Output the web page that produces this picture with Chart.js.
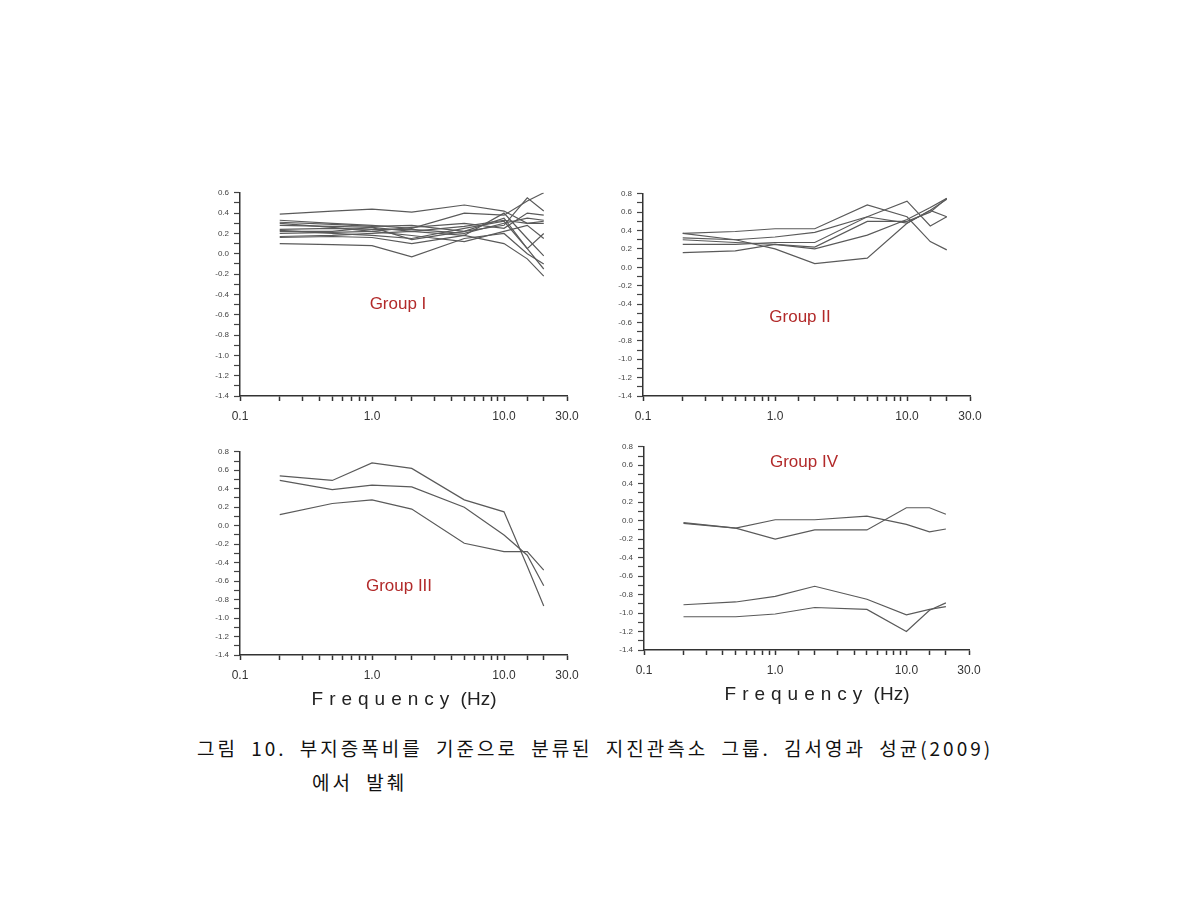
<!DOCTYPE html>
<html>
<head>
<meta charset="utf-8">
<script src="https://cdn.jsdelivr.net/npm/chart.js@4.4.1/dist/chart.umd.min.js"></script>
<style>
  body { margin: 0; background: #fff; width: 1190px; height: 905px; position: relative; overflow: hidden; }
  .panel { position: absolute; }
  .glabel { position: absolute; color: #b22a2a; font: 17px "Liberation Sans", Arial, sans-serif; transform: translateX(-50%); white-space: nowrap; }
  .xtitle { position: absolute; color: #222; font: 19px "Liberation Sans", Arial, sans-serif; transform: translateX(-50%); white-space: nowrap; }
  .xtitle span { letter-spacing: 6px; }
  .caption { position: absolute; color: #111; font: 19px "Noto Sans CJK KR", sans-serif; letter-spacing: 3px; word-spacing: 6px; white-space: nowrap; }
</style>
</head>
<body>
<canvas id="g1" class="panel"></canvas>
<canvas id="g2" class="panel"></canvas>
<canvas id="g3" class="panel"></canvas>
<canvas id="g4" class="panel"></canvas>

<div class="glabel" style="left:398px; top:294px;">Group I</div>
<div class="glabel" style="left:800px; top:307px;">Group II</div>
<div class="glabel" style="left:399px; top:576px;">Group III</div>
<div class="glabel" style="left:804px; top:452px;">Group IV</div>
<div class="xtitle" style="left:404px; top:688px;"><span>Frequency</span> (Hz)</div>
<div class="xtitle" style="left:817px; top:683px;"><span>Frequency</span> (Hz)</div>
<div class="caption" style="left:197px; top:734px;">그림 10. 부지증폭비를 기준으로 분류된 지진관측소 그룹. 김서영과 성균(2009)</div>
<div class="caption" style="left:312px; top:768px;">에서 발췌</div>

<script>
// frequencies (Hz) where each station's ratio was sampled
var freqs = [0.2, 0.5, 1, 2, 5, 10, 15, 20];

// Group I - site amplification ratio (log10) per station
var group1 = [
  [0.39, 0.42, 0.44, 0.41, 0.48, 0.42, 0.30, 0.32],
  [0.33, 0.30, 0.28, 0.25, 0.40, 0.38, 0.52, 0.60],
  [0.31, 0.29, 0.27, 0.28, 0.22, 0.28, 0.55, 0.42],
  [0.28, 0.27, 0.26, 0.22, 0.27, 0.33, 0.30, 0.30],
  [0.24, 0.25, 0.24, 0.24, 0.20, 0.30, 0.35, 0.33],
  [0.22, 0.22, 0.26, 0.14, 0.22, 0.35, 0.05, 0.20],
  [0.20, 0.21, 0.22, 0.26, 0.30, 0.25, 0.40, 0.38],
  [0.17, 0.18, 0.20, 0.22, 0.18, 0.40, 0.15, -0.02],
  [0.16, 0.17, 0.16, 0.10, 0.18, 0.10, -0.05, -0.22],
  [0.10, 0.09, 0.08, -0.03, 0.15, 0.20, 0.00, -0.10],
  [0.23, 0.20, 0.18, 0.15, 0.25, 0.32, 0.05, -0.15],
  [0.30, 0.26, 0.22, 0.18, 0.12, 0.22, 0.28, 0.15]
];

// Group II
var group2 = [
  [0.37, 0.39, 0.42, 0.42, 0.68, 0.55, 0.28, 0.19],
  [0.32, 0.30, 0.33, 0.38, 0.55, 0.72, 0.45, 0.55],
  [0.30, 0.27, 0.25, 0.22, 0.50, 0.50, 0.60, 0.75],
  [0.25, 0.25, 0.27, 0.27, 0.55, 0.48, 0.62, 0.55],
  [0.16, 0.18, 0.25, 0.20, 0.35, 0.52, 0.65, 0.75],
  [0.37, 0.30, 0.20, 0.04, 0.10, 0.48, 0.62, 0.74]
];

// Group III
var group3 = [
  [0.54, 0.49, 0.68, 0.62, 0.28, 0.15, -0.44, -0.87],
  [0.49, 0.39, 0.44, 0.42, 0.20, -0.10, -0.32, -0.65],
  [0.12, 0.24, 0.28, 0.18, -0.19, -0.28, -0.28, -0.48]
];

// Group IV
var group4 = [
  [-0.02, -0.08, 0.01, 0.01, 0.05, -0.04, -0.12, -0.09],
  [-0.03, -0.08, -0.20, -0.10, -0.10, 0.14, 0.14, 0.07],
  [-0.91, -0.88, -0.82, -0.71, -0.85, -1.02, -0.96, -0.93],
  [-1.04, -1.04, -1.01, -0.94, -0.96, -1.20, -0.97, -0.89]
];

var xLabels = {0.1: '0.1', 1: '1.0', 10: '10.0', 30: '30.0'};
var yMin = -1.4;
var yMaxTop = [0.6, 0.8, 0.8, 0.8];

function makePanel(id, rows, yMax, plot) {
  // plot = [left, top, right, bottom] of the plot area in page pixels
  var padL = 50, padT = 8, padR = 22, padB = 40;
  var cv = document.getElementById(id);
  var w = plot[2] - plot[0] + padL + padR;
  var h = plot[3] - plot[1] + padT + padB;
  cv.style.left = (plot[0] - padL) + 'px';
  cv.style.top = (plot[1] - padT) + 'px';
  cv.style.width = w + 'px';
  cv.style.height = h + 'px';
  cv.width = w; cv.height = h;

  var datasets = rows.map(function(r) {
    return {
      data: r.map(function(v, i) { return {x: freqs[i], y: v}; }),
      borderColor: '#5a5a5a',
      borderWidth: 1.2,
      pointRadius: 0,
      tension: 0,
      fill: false
    };
  });

  new Chart(cv.getContext('2d'), {
    type: 'line',
    data: {datasets: datasets},
    options: {
      responsive: false,
      animation: false,
      layout: {padding: {top: padT, right: padR, left: 0, bottom: 0}},
      plugins: {legend: {display: false}, tooltip: {enabled: false}},
      scales: {
        x: {
          type: 'logarithmic',
          min: 0.1,
          max: 30,
          afterFit: function(s) { s.height = padB; },
          border: {display: true, color: '#333', width: 1.5},
          grid: {drawOnChartArea: false, drawTicks: true, tickLength: 5, tickColor: '#333', tickWidth: 1.5},
          ticks: {
            autoSkip: false,
            maxRotation: 0,
            padding: 8,
            color: '#333',
            font: {family: 'Liberation Sans', size: 12},
            callback: function(v) {
              for (var k in xLabels) {
                if (Math.abs(v - Number(k)) < 1e-6) return xLabels[k];
              }
              return '';
            }
          }
        },
        y: {
          min: yMin,
          max: yMax,
          afterFit: function(s) { s.width = padL; },
          border: {display: true, color: '#333', width: 1.5},
          grid: {drawOnChartArea: false, drawTicks: true, tickLength: 6, tickColor: '#444', tickWidth: 1.2},
          ticks: {
            stepSize: 0.1,
            autoSkip: false,
            padding: 5,
            color: '#444',
            font: {family: 'Liberation Sans', size: 8},
            callback: function(v) {
              var t = Math.round(v * 10);
              if (t % 2 !== 0) return '';
              return (t / 10).toFixed(1);
            }
          }
        }
      }
    }
  });
}

makePanel('g1', group1, yMaxTop[0], [240, 191, 567, 396]);
makePanel('g2', group2, yMaxTop[1], [643, 192, 970, 396]);
makePanel('g3', group3, yMaxTop[2], [240, 450, 567, 655]);
makePanel('g4', group4, yMaxTop[3], [644, 445, 969, 650]);
</script>
</body>
</html>
